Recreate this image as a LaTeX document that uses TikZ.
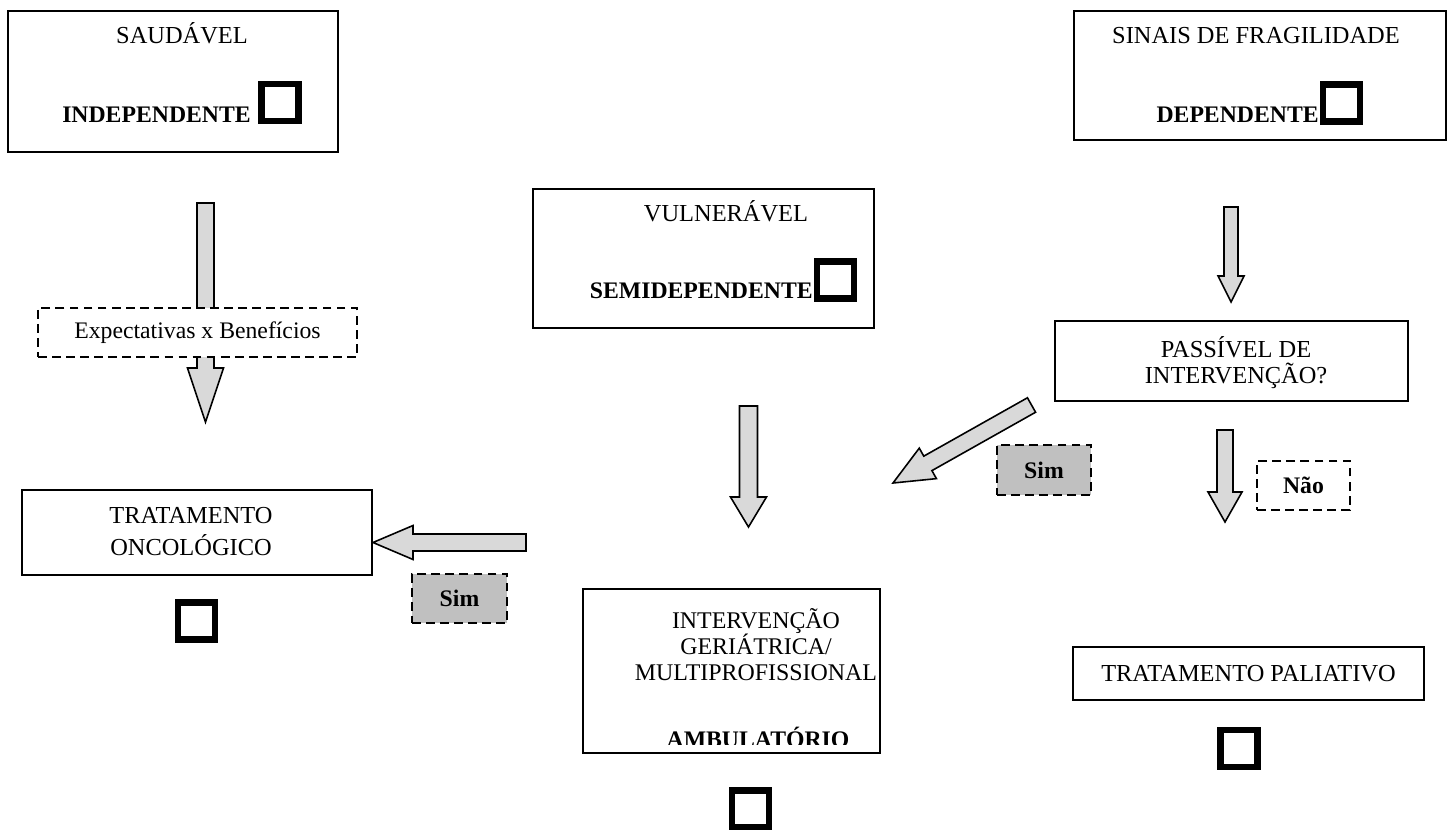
\documentclass[tikz,border=0pt]{standalone}
\usepackage{fontspec}
\setmainfont{Liberation Serif}
\usetikzlibrary{calc}
\definecolor{arrowgray}{HTML}{D9D9D9}
\definecolor{simgray}{HTML}{C0C0C0}
\tikzset{
  box/.style={draw, line width=1pt, fill=white, inner sep=0pt},
  dbox/.style={box, dash pattern=on 5pt off 3pt, line width=1.1pt},
  simbox/.style={dbox, fill=simgray, font=\fontsize{13.5}{16}\selectfont\bfseries},
  chk/.style={draw, line width=3.5pt, minimum size=21pt, inner sep=0pt},
  txt/.style={inner sep=0pt, anchor=base},
  stxt/.style={txt, font=\fontsize{13.6}{16}\selectfont},
  btxt/.style={txt, font=\fontsize{13.5}{16}\selectfont\bfseries},
  barrow/.style={draw, line width=0.9pt, fill=arrowgray, line join=miter},
}
% block arrow: tail coord, tip coord, shaft half-width, head half-width, head length
\newcommand{\blockarrow}[5]{%
  \coordinate (bh) at ($(#2)!#5!(#1)$);
  \draw[barrow] ($(#1)!#3!90:(#2)$) -- ($(bh)!#3!-90:(#1)$) -- ($(bh)!#4!-90:(#1)$)
    -- (#2) -- ($(bh)!#4!90:(#1)$) -- ($(bh)!#3!90:(#1)$) -- ($(#1)!#3!-90:(#2)$) -- cycle;
}
\begin{document}
\begin{tikzpicture}[x=0.02cm, y=-0.02cm, font=\fontsize{13.9}{16}\selectfont]
\useasboundingbox (0,0) rectangle (1453,829);

% ---------- arrows (drawn first) ----------
\coordinate (a1t) at (205.5,203);  \coordinate (a1h) at (205.5,422);
\coordinate (a2t) at (1231,207);   \coordinate (a2h) at (1231,302);
\coordinate (a3t) at (748.5,406);  \coordinate (a3h) at (748.5,527);
\coordinate (a4t) at (1031.5,405); \coordinate (a4h) at (893,483);
\coordinate (a5t) at (1225,430);   \coordinate (a5h) at (1225,522);
\coordinate (a6t) at (526,542.5);  \coordinate (a6h) at (373,542.5);
\blockarrow{a1t}{a1h}{0.17cm}{0.36cm}{1.08cm}
\blockarrow{a2t}{a2h}{0.14cm}{0.26cm}{0.52cm}
\blockarrow{a3t}{a3h}{0.18cm}{0.36cm}{0.6cm}
\blockarrow{a4t}{a4h}{0.166cm}{0.35cm}{0.8cm}
\blockarrow{a5t}{a5h}{0.16cm}{0.34cm}{0.6cm}
\blockarrow{a6t}{a6h}{0.17cm}{0.34cm}{0.8cm}

% ---------- SAUDAVEL ----------
\node[box, minimum width=6.6cm, minimum height=2.82cm] (saud) at (173,81.5) {};
\node[txt] (saud-l1) at (182,43) {SAUDÁVEL};
\node[btxt] (saud-l2) at (156.5,122) {INDEPENDENTE};
\node[chk] (chk-saud) at (280,102.5) {};

% ---------- SINAIS DE FRAGILIDADE ----------
\node[box, minimum width=7.44cm, minimum height=2.58cm] (sinais) at (1260,75.5) {};
\node[txt] (sinais-l1) at (1256,43) {SINAIS DE FRAGILIDADE};
\node[btxt, anchor=base east] (sinais-l2) at (1319,122) {DEPENDENTE};
\node[chk] (chk-sinais) at (1341.5,103) {};

% ---------- VULNERAVEL ----------
\node[box, minimum width=6.82cm, minimum height=2.78cm] (vuln) at (703.5,258.5) {};
\node[txt] (vuln-l1) at (726,221) {VULNERÁVEL};
\node[btxt, anchor=base east] (vuln-l2) at (813,298) {SEMIDEPENDENTE};
\node[chk] (chk-vuln) at (835.5,280) {};

% ---------- Expectativas ----------
\node[dbox, font=\fontsize{13.5}{16}\selectfont, minimum width=6.38cm, minimum height=0.98cm] (expect) at (197.5,332.5) {Expectativas x Benefícios};

% ---------- TRATAMENTO ONCOLOGICO ----------
\node[box, minimum width=7cm, minimum height=1.7cm] (onc) at (197,532.5) {};
\node[txt] (onc-l1) at (191,523) {TRATAMENTO};
\node[txt] (onc-l2) at (191,555) {ONCOLÓGICO};
\node[chk] (chk-onc) at (196.5,621) {};

% ---------- Sim / Nao ----------
\node[simbox, minimum width=1.9cm, minimum height=0.98cm] (sim1) at (459.5,598.5) {Sim};
\node[simbox, minimum width=1.88cm, minimum height=1.0cm] (sim2) at (1044,470) {Sim};
\node[dbox, font=\fontsize{13.5}{16}\selectfont\bfseries, minimum width=1.86cm, minimum height=0.98cm] (nao) at (1303.5,485.5) {Não};

% ---------- PASSIVEL ----------
\node[box, minimum width=7.06cm, minimum height=1.6cm] (pass) at (1231.5,361) {};
\node[txt] (pass-l1) at (1236,357) {PASSÍVEL DE};
\node[txt] (pass-l2) at (1236,383) {INTERVENÇÃO?};

% ---------- INTERVENCAO ----------
\node[box, minimum width=5.94cm, minimum height=3.28cm] (interv) at (731.5,671) {};
\node[stxt] (interv-l1) at (756,628) {INTERVENÇÃO};
\node[stxt] (interv-l2) at (756,654) {GERIÁTRICA/};
\node[stxt] (interv-l3) at (756,680) {MULTIPROFISSIONAL};
\begin{scope}
  \clip (583,700) rectangle (880,744);
  \node[btxt] (interv-l4) at (758,747) {AMBULATÓRIO};
\end{scope}
\node[chk] (chk-interv) at (750.5,809) {};

% ---------- TRATAMENTO PALIATIVO ----------
\node[box, minimum width=7.02cm, minimum height=1.06cm] (pal) at (1248.5,673.5) {TRATAMENTO PALIATIVO};
\node[chk] (chk-pal) at (1239,748.5) {};
\end{tikzpicture}
\end{document}
